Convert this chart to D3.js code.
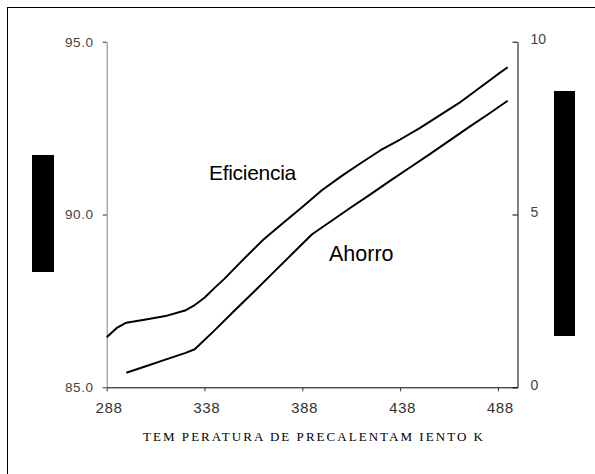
<!DOCTYPE html>
<html>
<head>
<meta charset="utf-8">
<script src="https://cdn.jsdelivr.net/npm/d3@7"></script>
<style>
html,body{margin:0;padding:0;background:#fff;}
svg{display:block;}
</style>
</head>
<body>
<svg id="chart" width="595" height="474"></svg>
<script>
// ---- data ----
const effTemps = [288,293,298,308,318,328,333,338,343,348,358,368,378,388,398,408,418,428,438,448,458,468,478,488,493];
const effValues = [86.45,86.71,86.87,86.96,87.06,87.22,87.38,87.59,87.87,88.13,88.71,89.27,89.75,90.22,90.70,91.11,91.49,91.86,92.17,92.50,92.86,93.22,93.64,94.06,94.26];
const savTemps = [298,308,318,328,333,343,353,363,373,383,393,403,413,423,433,443,453,463,473,483,493];
const savValues = [0.42,0.61,0.80,0.99,1.10,1.64,2.20,2.75,3.31,3.87,4.43,4.82,5.21,5.59,5.98,6.36,6.74,7.13,7.52,7.90,8.29];
const xTicks = [288,338,388,438,488];
const leftTicks = [85,90,95];
const rightTicks = [0,5,10];
const xTitle = "TEM PERATURA DE PRECALENTAM IENTO K";
const seriesLabels = ["Eficiencia","Ahorro"];

// ---- layout ----
const svg = d3.select("#chart");
const L = 106.7, R = 517.5, T = 41.7, B = 387.3;

const x = d3.scaleLinear().domain([288,498]).range([L,R]);
const yL = d3.scaleLinear().domain([85,95]).range([B,T]);
const yR = d3.scaleLinear().domain([0,10]).range([B,T]);

// outer border
svg.append("rect").attr("x",7.5).attr("y",7.5).attr("width",700).attr("height",700)
  .attr("fill","none").attr("stroke","#000").attr("stroke-width",1);

// left axis
const gL = svg.append("g").attr("transform",`translate(${L},0)`)
  .call(d3.axisLeft(yL).tickValues(leftTicks).tickFormat(d3.format(".1f")).tickSize(4).tickSizeOuter(0).tickPadding(9));
gL.select(".domain").attr("stroke","#808080");
gL.selectAll(".tick line").attr("stroke","#333");
gL.selectAll("text").attr("font-family","Liberation Sans, Arial, sans-serif").attr("font-size",13.5)
  .attr("fill","#444").attr("letter-spacing",0.6);

// right axis
const gR = svg.append("g").attr("transform",`translate(${R},0)`)
  .call(d3.axisRight(yR).tickValues(rightTicks).tickFormat(d3.format("d")).tickSize(-5).tickSizeOuter(0).tickPadding(13));
gR.select(".domain").attr("stroke","#000");
gR.selectAll(".tick line").attr("stroke","#000");
gR.selectAll("text").attr("font-family","Liberation Sans, Arial, sans-serif").attr("font-size",14)
  .attr("fill","#444").attr("dy","0.15em");

// bottom axis
const gB = svg.append("g").attr("transform",`translate(0,${B})`)
  .call(d3.axisBottom(x).tickValues(xTicks).tickFormat(d3.format("d")).tickSize(4).tickSizeOuter(0).tickPadding(11));
gB.select(".domain").attr("stroke","#000");
gB.selectAll(".tick line").attr("stroke","#333");
gB.selectAll("text").attr("font-family","Liberation Mono, Courier New, monospace").attr("font-size",15)
  .attr("fill","#333").attr("dx",1.5);

// lines
const lineEff = d3.line().x((d,i)=>x(effTemps[i])).y(d=>yL(d));
const lineSav = d3.line().x((d,i)=>x(savTemps[i])).y(d=>yR(d));
svg.append("path").datum(effValues).attr("d",lineEff).attr("fill","none").attr("stroke","#000").attr("stroke-width",2).attr("stroke-linejoin","round");
svg.append("path").datum(savValues).attr("d",lineSav).attr("fill","none").attr("stroke","#000").attr("stroke-width",2).attr("stroke-linejoin","round");

// series labels
svg.append("text").attr("x",209).attr("y",180).text(seriesLabels[0])
  .attr("font-family","Liberation Sans, Arial, sans-serif").attr("font-size",21).attr("fill","#000").attr("letter-spacing",-0.3);
svg.append("text").attr("x",329).attr("y",261).text(seriesLabels[1])
  .attr("font-family","Liberation Sans, Arial, sans-serif").attr("font-size",21.5).attr("fill","#000");

// x title
svg.append("text").attr("x",143).attr("y",440.5).text(xTitle)
  .attr("font-family","Liberation Serif, Times New Roman, serif").attr("font-size",13).attr("fill","#000")
  .attr("textLength",340).attr("lengthAdjust","spacing");

// redacted axis title blocks
svg.append("rect").attr("x",32).attr("y",155).attr("width",22).attr("height",117).attr("fill","#000");
svg.append("rect").attr("x",554).attr("y",91).attr("width",21).attr("height",245).attr("fill","#000");
</script>
</body>
</html>
